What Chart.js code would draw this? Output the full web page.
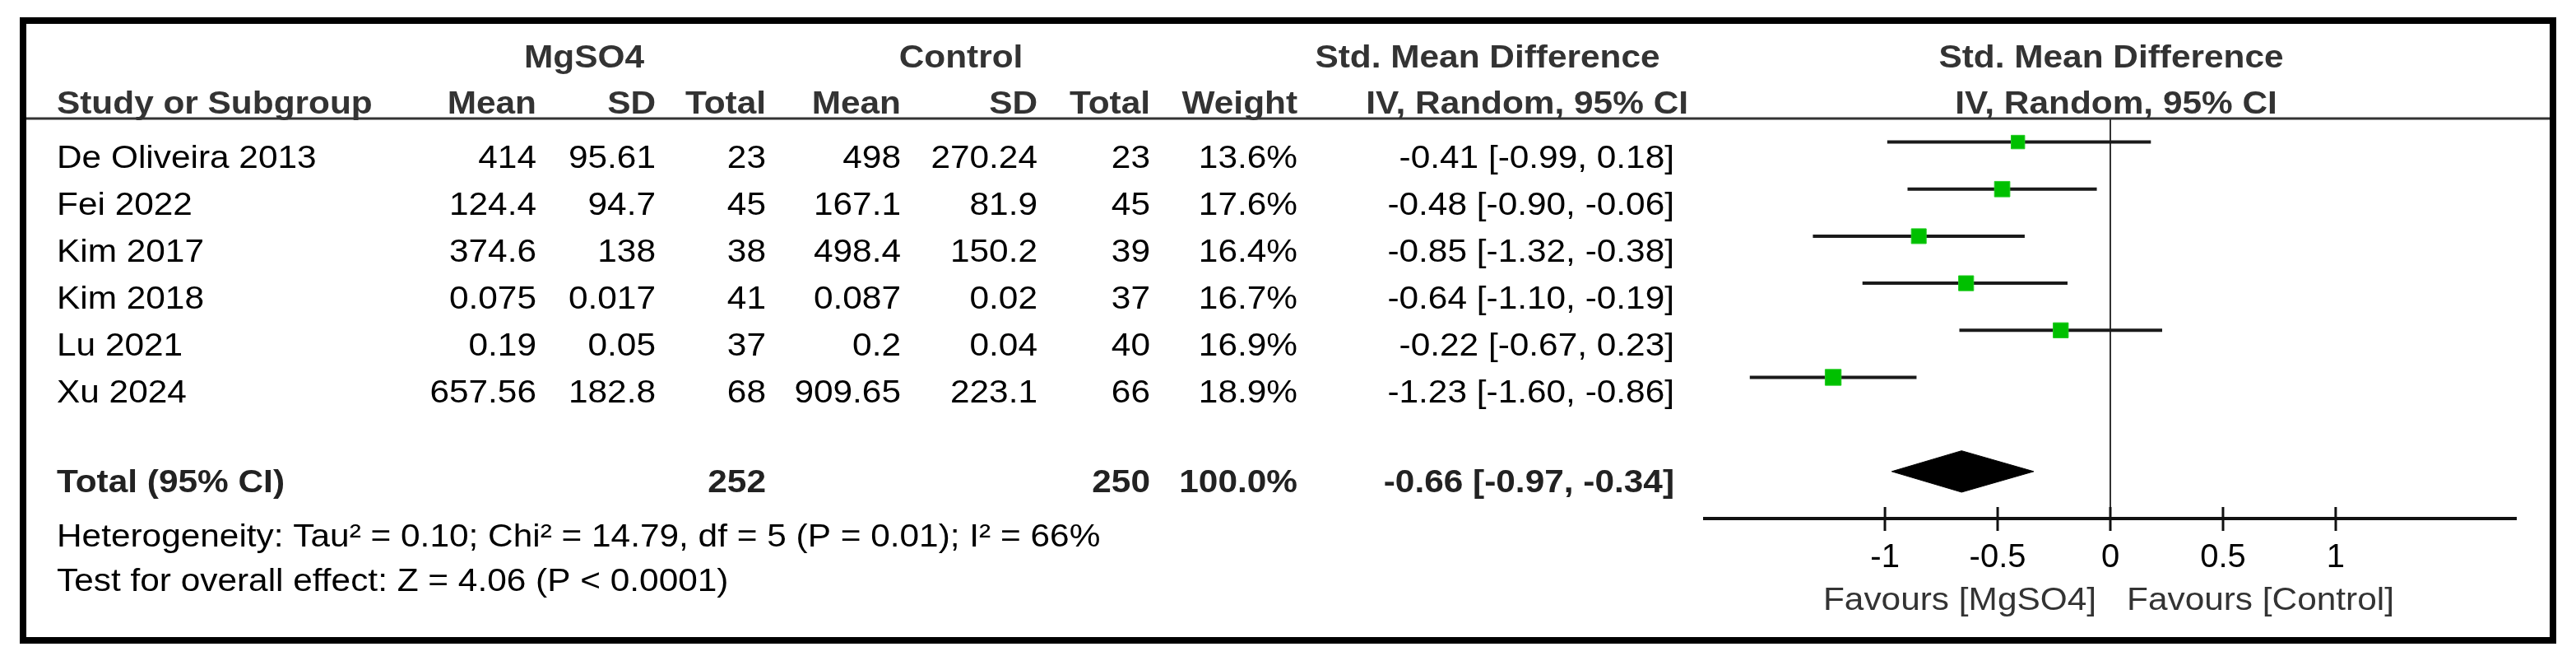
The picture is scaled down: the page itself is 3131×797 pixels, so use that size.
<!DOCTYPE html>
<html>
<head>
<meta charset="utf-8">
<script src="https://cdn.jsdelivr.net/npm/chart.js@4/dist/chart.umd.min.js"></script>
<style>
  body { margin: 0; background: #fff; }
  canvas { display: block; }
</style>
</head>
<body>
<canvas id="forest" width="3131" height="797"></canvas>
<script>
// study table
const studies = ['De Oliveira 2013', 'Fei 2022', 'Kim 2017', 'Kim 2018', 'Lu 2021', 'Xu 2024'];
const mgMean = [414, 124.4, 374.6, 0.075, 0.19, 657.56];
const mgSD = [95.61, 94.7, 138, 0.017, 0.05, 182.8];
const mgTotal = [23, 45, 38, 41, 37, 68];
const ctMean = [498, 167.1, 498.4, 0.087, 0.2, 909.65];
const ctSD = [270.24, 81.9, 150.2, 0.02, 0.04, 223.1];
const ctTotal = [23, 45, 39, 37, 40, 66];
const weights = [13.6, 17.6, 16.4, 16.7, 16.9, 18.9];
const smd = [-0.41, -0.48, -0.85, -0.64, -0.22, -1.23];
const ciLow = [-0.99, -0.90, -1.32, -1.10, -0.67, -1.60];
const ciHigh = [0.18, -0.06, -0.38, -0.19, 0.23, -0.86];

// pooled result
const totalMg = 252;
const totalCt = 250;
const totalWeight = 100.0;
const pooled = [-0.66, -0.97, -0.34]; // estimate, low, high
const pooledRow = 7;

const tickVals = [-1, -0.5, 0, 0.5, 1];
const heterogeneity = 'Heterogeneity: Tau\u00b2 = 0.10; Chi\u00b2 = 14.79, df = 5 (P = 0.01); I\u00b2 = 66%';
const overallTest = 'Test for overall effect: Z = 4.06 (P < 0.0001)';

const FONT = '"Liberation Sans", Arial, sans-serif';
const FS = 38;
const SX = 1.115;

const f2 = v => v.toFixed(2);
const ciText = (e, lo, hi) => `${f2(e)} [${f2(lo)}, ${f2(hi)}]`;

function txt(ctx, s, x, y, align, bold, color) {
    ctx.save();
    ctx.font = (bold ? 'bold ' : '') + FS + 'px ' + FONT;
    ctx.fillStyle = color || '#000';
    ctx.textAlign = align;
    ctx.textBaseline = 'alphabetic';
    ctx.translate(x, y);
    ctx.scale(SX, 1);
    ctx.fillText(s, 0, 0);
    ctx.restore();
}

const tablePlugin = {
    id: 'table',
    afterDraw(chart) {
        const ctx = chart.ctx;
        const ys = chart.scales.y;
        const xs = chart.scales.x;
        const area = chart.chartArea;

        // upper halves of the axis ticks
        ctx.save();
        ctx.strokeStyle = '#111';
        ctx.lineWidth = 3;
        tickVals.forEach(v => {
            const px = xs.getPixelForValue(v);
            ctx.beginPath();
            ctx.moveTo(px, area.bottom - 14);
            ctx.lineTo(px, area.bottom);
            ctx.stroke();
        });
        ctx.restore();

        // header
        const hd = '#333';
        txt(ctx, 'MgSO4', 710, 82, 'center', true, hd);
        txt(ctx, 'Control', 1168, 82, 'center', true, hd);
        txt(ctx, 'Std. Mean Difference', 1808, 82, 'center', true, hd);
        txt(ctx, 'Std. Mean Difference', 2566, 82, 'center', true, hd);
        txt(ctx, 'Study or Subgroup', 69, 138, 'left', true, hd);
        txt(ctx, 'Mean', 652, 138, 'right', true, hd);
        txt(ctx, 'SD', 797, 138, 'right', true, hd);
        txt(ctx, 'Total', 931, 138, 'right', true, hd);
        txt(ctx, 'Mean', 1095, 138, 'right', true, hd);
        txt(ctx, 'SD', 1261, 138, 'right', true, hd);
        txt(ctx, 'Total', 1398, 138, 'right', true, hd);
        txt(ctx, 'Weight', 1577, 138, 'right', true, hd);
        txt(ctx, 'IV, Random, 95% CI', 2052, 138, 'right', true, hd);
        txt(ctx, 'IV, Random, 95% CI', 2572, 138, 'center', true, hd);

        // study rows
        studies.forEach((name, i) => {
            const y = ys.getPixelForValue(i) + 31;
            txt(ctx, name, 69, y, 'left');
            txt(ctx, String(mgMean[i]), 652, y, 'right');
            txt(ctx, String(mgSD[i]), 797, y, 'right');
            txt(ctx, String(mgTotal[i]), 931, y, 'right');
            txt(ctx, String(ctMean[i]), 1095, y, 'right');
            txt(ctx, String(ctSD[i]), 1261, y, 'right');
            txt(ctx, String(ctTotal[i]), 1398, y, 'right');
            txt(ctx, weights[i].toFixed(1) + '%', 1577, y, 'right');
            txt(ctx, ciText(smd[i], ciLow[i], ciHigh[i]), 2035, y, 'right');
        });

        // total row
        const ty = ys.getPixelForValue(pooledRow) + 25;
        txt(ctx, 'Total (95% CI)', 69, ty, 'left', true, '#222');
        txt(ctx, String(totalMg), 931, ty, 'right', true, '#222');
        txt(ctx, String(totalCt), 1398, ty, 'right', true, '#222');
        txt(ctx, totalWeight.toFixed(1) + '%', 1577, ty, 'right', true, '#222');
        txt(ctx, ciText(pooled[0], pooled[1], pooled[2]), 2035, ty, 'right', true, '#222');

        txt(ctx, heterogeneity, 69, 664, 'left');
        txt(ctx, overallTest, 69, 718, 'left');

        // favours labels
        const zero = xs.getPixelForValue(0);
        txt(ctx, 'Favours [MgSO4]', zero - 17, 741, 'right', false, '#333');
        txt(ctx, 'Favours [Control]', zero + 20, 741, 'left', false, '#333');

        // header rule and frame
        ctx.save();
        ctx.strokeStyle = '#333';
        ctx.lineWidth = 3;
        ctx.beginPath();
        ctx.moveTo(31, 144);
        ctx.lineTo(3099, 144);
        ctx.stroke();
        ctx.strokeStyle = '#000';
        ctx.lineWidth = 8;
        ctx.strokeRect(28, 25, 3075, 753);
        ctx.restore();
    }
};

const ciSets = studies.map((s, i) => ({
    type: 'scatter',
    data: [{ x: ciLow[i], y: i }, { x: ciHigh[i], y: i }],
    showLine: true,
    borderColor: '#1a1a1a',
    borderWidth: 4,
    pointRadius: 0,
    order: 2
}));

const markerSet = {
    type: 'scatter',
    data: smd.map((v, i) => ({ x: v, y: i })),
    pointStyle: 'rect',
    pointRadius: weights.map(w => Math.sqrt(w) * 3.15),
    backgroundColor: '#00c000',
    borderColor: '#22cc22',
    borderWidth: 1,
    order: 1
};

const dh = 0.44;
const diamondSet = {
    type: 'scatter',
    data: [
        { x: pooled[1], y: pooledRow },
        { x: pooled[0], y: pooledRow - dh },
        { x: pooled[2], y: pooledRow },
        { x: pooled[0], y: pooledRow + dh },
        { x: pooled[1], y: pooledRow }
    ],
    showLine: true,
    fill: 'shape',
    backgroundColor: '#000',
    borderColor: '#000',
    borderWidth: 1,
    pointRadius: 0,
    tension: 0,
    order: 1
};

new Chart(document.getElementById('forest'), {
    type: 'scatter',
    data: { datasets: [...ciSets, markerSet, diamondSet] },
    options: {
        responsive: false,
        animation: false,
        devicePixelRatio: 1,
        layout: { padding: { left: 2072, right: 73, top: 144, bottom: 47 } },
        plugins: { legend: { display: false }, tooltip: { enabled: false } },
        scales: {
            x: {
                type: 'linear',
                min: -1.8,
                max: 1.8,
                afterBuildTicks: scale => { scale.ticks = tickVals.map(v => ({ value: v })); },
                afterFit: scale => { scale.height = 120; },
                ticks: {
                    color: '#000',
                    padding: 9,
                    font: { family: FONT, size: 40 },
                    callback: v => String(v)
                },
                grid: {
                    drawOnChartArea: true,
                    color: c => (c.tick && c.tick.value === 0) ? '#333' : 'rgba(0,0,0,0)',
                    lineWidth: 2,
                    tickColor: '#111',
                    tickWidth: 3,
                    tickLength: 15
                },
                border: { display: true, color: '#111', width: 4 }
            },
            y: {
                type: 'linear',
                display: false,
                min: -0.5,
                max: 8,
                reverse: true
            }
        }
    },
    plugins: [tablePlugin]
});
</script>
</body>
</html>
